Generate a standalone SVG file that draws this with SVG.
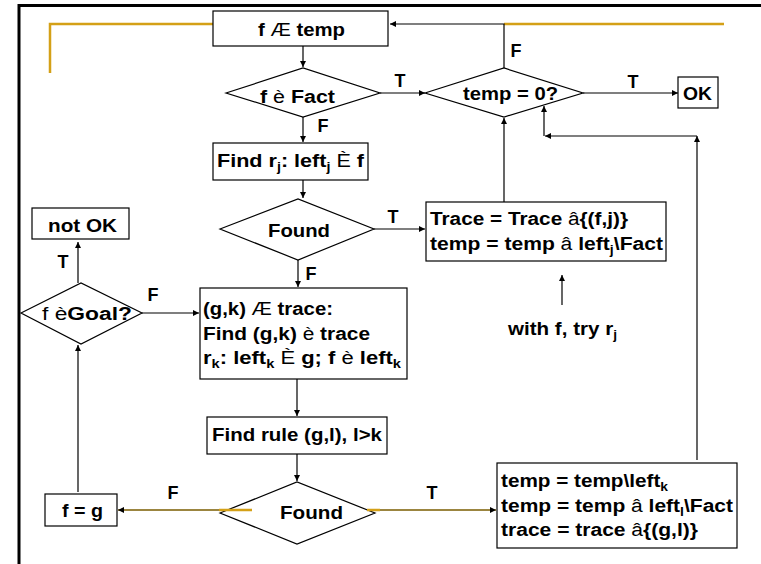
<svg xmlns="http://www.w3.org/2000/svg" width="761" height="564" viewBox="0 0 761 564">
<style>
.box{fill:#fff;stroke:#000;stroke-width:1.2}
.t{font-family:"Liberation Sans",Arial,sans-serif;font-size:18px;font-weight:bold;fill:#000}
.m{text-anchor:middle}
.s{font-weight:normal}
.sub{font-size:12px}
.c{fill:none;stroke:#000;stroke-width:1.2}
.cb{fill:none;stroke:#7a5c00;stroke-width:1.6}
.g{fill:none;stroke:#D4A017;stroke-width:2.5}
</style>
<defs>
<marker id="a" viewBox="0 0 10 10" refX="10" refY="5" markerWidth="6" markerHeight="6" orient="auto" markerUnits="userSpaceOnUse">
<path d="M0,0 L10,5 L0,10 z" fill="#000"/>
</marker>
</defs>
<rect width="761" height="564" fill="#fff"/>
<g id="frame">
<path d="M19,564 V5.5 H761" fill="none" stroke="#000" stroke-width="3"/>
<path class="g" d="M50,73 V24 H213"/>
<path class="g" d="M504,24 H724"/>
</g>
<g id="connectors">
<path class="c" d="M303,46 V67" marker-end="url(#a)"/>
<path class="c" d="M380,93 H425" marker-end="url(#a)"/>
<path class="c" stroke-width="2" d="M504,68 V24 H390" marker-end="url(#a)"/>
<path class="c" d="M583,93 H678" marker-end="url(#a)"/>
<path class="c" d="M303,117 V142" marker-end="url(#a)"/>
<path class="c" d="M303,180 V198" marker-end="url(#a)"/>
<path class="c" d="M374,229 H425" marker-end="url(#a)"/>
<path class="c" d="M504,202 V118" marker-end="url(#a)"/>
<path class="c" d="M562,305 V275" marker-end="url(#a)"/>
<path class="c" d="M697,460 V136" marker-end="url(#a)"/>
<path class="c" d="M697,136 H545" marker-end="url(#a)"/>
<path class="c" d="M544,136 V106" marker-end="url(#a)"/>
<path class="c" d="M298,260 V287" marker-end="url(#a)"/>
<path class="c" d="M142,313 H199" marker-end="url(#a)"/>
<path class="c" d="M78,283 V242" marker-end="url(#a)"/>
<path class="c" d="M78,492 V345" marker-end="url(#a)"/>
<path class="c" d="M297,379 V416" marker-end="url(#a)"/>
<path class="c" d="M297,454 V481" marker-end="url(#a)"/>
<path class="cb" d="M220,510 H118" marker-end="url(#a)"/>
<path class="cb" d="M374,510 H496" marker-end="url(#a)"/>
</g>
<g id="n_ftemp"><rect class="box" x="213" y="11" width="175" height="35"/>
<text class="t" x="258" y="36" textLength="87" lengthAdjust="spacingAndGlyphs">f <tspan class="s">Æ</tspan> temp</text></g>
<g id="n_ffact"><polygon class="box" points="226,93 303,68 380,93 303,117"/>
<text class="t" x="260" y="103" textLength="75" lengthAdjust="spacingAndGlyphs">f <tspan class="s">è</tspan> Fact</text></g>
<g id="n_temp0"><polygon class="box" points="425,93 504,68 583,93 504,117"/>
<text class="t" x="463" y="100" textLength="95" lengthAdjust="spacingAndGlyphs">temp = 0?</text></g>
<g id="n_ok"><rect class="box" x="678" y="77" width="40" height="31"/>
<text class="t" x="683" y="100" textLength="29" lengthAdjust="spacingAndGlyphs">OK</text></g>
<g id="n_findrj"><rect class="box" x="213" y="143" width="155" height="37"/>
<text class="t" x="217" y="167" textLength="147" lengthAdjust="spacingAndGlyphs">Find r<tspan class="sub" dy="4">j</tspan><tspan dy="-4">: left</tspan><tspan class="sub" dy="4">j</tspan><tspan class="s" dy="-4"> È </tspan> f</text></g>
<g id="n_found1"><polygon class="box" points="220,229 298,199 374,229 298,260"/>
<text class="t" x="268" y="237" textLength="62" lengthAdjust="spacingAndGlyphs">Found</text></g>
<g id="n_trace"><rect class="box" x="426" y="202" width="240" height="59"/>
<text class="t" x="430" y="225" textLength="198" lengthAdjust="spacingAndGlyphs">Trace = Trace <tspan class="s">â</tspan>{(f,j)}</text>
<text class="t" x="430" y="250" textLength="233" lengthAdjust="spacingAndGlyphs">temp = temp <tspan class="s">â</tspan> left<tspan class="sub" dy="4">j</tspan><tspan dy="-4">\Fact</tspan></text></g>
<g id="n_with"><text class="t" x="508" y="335" textLength="109" lengthAdjust="spacingAndGlyphs">with f, try r<tspan class="sub" dy="4">j</tspan></text></g>
<g id="n_notok"><rect class="box" x="32" y="208" width="97" height="31"/>
<text class="t" x="48" y="232" textLength="69" lengthAdjust="spacingAndGlyphs">not OK</text></g>
<g id="n_goal"><polygon class="box" points="21,313 81,283 142,313 81,344"/>
<text class="t" x="42" y="320" textLength="90" lengthAdjust="spacingAndGlyphs"><tspan class="s">f è</tspan>Goal?</text></g>
<g id="n_gk"><rect class="box" x="200" y="288" width="207" height="91"/>
<text class="t" x="203" y="315" textLength="130" lengthAdjust="spacingAndGlyphs">(g,k) <tspan class="s">Æ</tspan> trace:</text>
<text class="t" x="203" y="340" textLength="167" lengthAdjust="spacingAndGlyphs">Find (g,k) <tspan class="s">è</tspan> trace</text>
<text class="t" x="203" y="364" textLength="198" lengthAdjust="spacingAndGlyphs">r<tspan class="sub" dy="4">k</tspan><tspan dy="-4">: left</tspan><tspan class="sub" dy="4">k</tspan><tspan class="s" dy="-4"> È </tspan> g; f <tspan class="s">è</tspan> left<tspan class="sub" dy="4">k</tspan></text></g>
<g id="n_findrule"><rect class="box" x="207" y="417" width="180" height="37"/>
<text class="t" x="212" y="441" textLength="170" lengthAdjust="spacingAndGlyphs">Find rule (g,l), l&gt;k</text></g>
<g id="n_found2"><polygon class="box" points="220,513 297,482 375,513 297,544"/>
<path class="g" d="M219,510 H252 M367,510 H380"/>
<text class="t" x="280" y="519" textLength="63" lengthAdjust="spacingAndGlyphs">Found</text></g>
<g id="n_fg"><rect class="box" x="45" y="494" width="72" height="32"/>
<text class="t" x="62" y="517" textLength="41" lengthAdjust="spacingAndGlyphs">f = g</text></g>
<g id="n_update"><rect class="box" x="497" y="463" width="240" height="85"/>
<text class="t" x="501" y="487" textLength="167" lengthAdjust="spacingAndGlyphs">temp = temp\left<tspan class="sub" dy="4">k</tspan></text>
<text class="t" x="501" y="512" textLength="232" lengthAdjust="spacingAndGlyphs">temp = temp <tspan class="s">â</tspan> left<tspan class="sub" dy="4">l</tspan><tspan dy="-4">\Fact</tspan></text>
<text class="t" x="501" y="536" textLength="197" lengthAdjust="spacingAndGlyphs">trace = trace <tspan class="s">â</tspan>{(g,l)}</text></g>
<g id="labels">
<text class="t m" x="400" y="87">T</text>
<text class="t m" x="323" y="132">F</text>
<text class="t m" x="516" y="57">F</text>
<text class="t m" x="633" y="88">T</text>
<text class="t m" x="393" y="223">T</text>
<text class="t m" x="311" y="280">F</text>
<text class="t m" x="63" y="268">T</text>
<text class="t m" x="153" y="301">F</text>
<text class="t m" x="173" y="499">F</text>
<text class="t m" x="432" y="499">T</text>
</g>
</svg>
